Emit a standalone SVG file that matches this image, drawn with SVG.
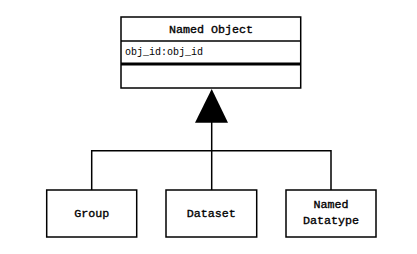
<svg xmlns="http://www.w3.org/2000/svg" width="417" height="254" viewBox="0 0 417 254">
<style>
.box{fill:#fff;stroke:#000;stroke-width:1.5}
.t{font-family:"Liberation Mono","DejaVu Sans Mono",monospace;font-size:11.7px;text-anchor:middle;fill:#000;stroke:#000;stroke-width:0.35}
.a{font-family:"Liberation Mono","DejaVu Sans Mono",monospace;font-size:10px;fill:#000}
.ln{fill:none;stroke:#000;stroke-width:1.5}
</style>
<rect width="417" height="254" fill="#fff"/>
<g id="connectors">
<polyline class="ln" points="91.7,190 91.7,150.7 331,150.7 331,190"/>
<line class="ln" x1="211.7" y1="122" x2="211.7" y2="190"/>
<polygon points="211.7,89 195,122.7 228,122.7" fill="#000"/>
</g>
<g id="named-object">
<rect class="box" x="121" y="17" width="179.7" height="71"/>
<line class="ln" x1="121" y1="41" x2="300.7" y2="41"/>
<line x1="121" y1="64" x2="300.7" y2="64" stroke="#000" stroke-width="3"/>
<text class="t" x="211" y="33">Named Object</text>
<text class="a" x="125" y="55">obj_id:obj_id</text>
</g>
<g id="group">
<rect class="box" x="46.7" y="190" width="90" height="47"/>
<text class="t" x="91.7" y="217">Group</text>
</g>
<g id="dataset">
<rect class="box" x="166" y="190" width="90.7" height="47"/>
<text class="t" x="211.3" y="217">Dataset</text>
</g>
<g id="named-datatype">
<rect class="box" x="286" y="190" width="90" height="47"/>
<text class="t" x="331" y="208">Named</text>
<text class="t" x="331" y="224">Datatype</text>
</g>
</svg>
